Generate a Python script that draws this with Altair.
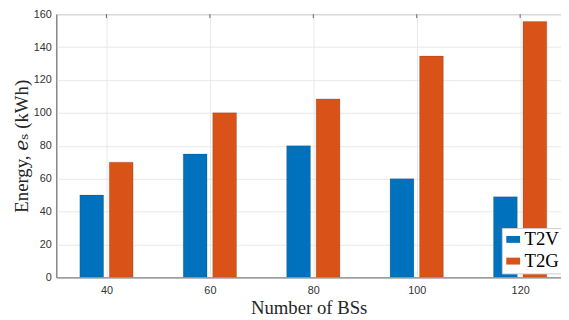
import altair as alt
import pandas as pd

categories = [40, 60, 80, 100, 120]
series_names = ["T2V", "T2G"]
t2v = [50, 75, 80, 60, 49]
t2g = [70, 100, 108.5, 134.5, 155.5]
y_ticks = [0, 20, 40, 60, 80, 100, 120, 140, 160]

rows = []
for c, v in zip(categories, t2v):
    rows.append({"n": c, "series": "T2V", "energy": v})
for c, v in zip(categories, t2g):
    rows.append({"n": c, "series": "T2G", "energy": v})
df = pd.DataFrame(rows)

colors = ["#0072BD", "#D95319"]
serif = "Liberation Serif, DejaVu Serif"
sans = "Liberation Sans"

x_scale = alt.Scale(domain=[30.3, 127.9], nice=False, zero=False)
y_scale = alt.Scale(domain=[0, 160], nice=False)

bars = alt.Chart(df).transform_calculate(
    off="datum.series == 'T2V' ? -2.85 : 2.85"
).transform_calculate(
    x0="datum.n + datum.off - 2.3",
    x1="datum.n + datum.off + 2.3",
).mark_bar(clip=True, stroke="#222", strokeWidth=0.5, strokeOpacity=0.35).encode(
    x=alt.X("x0:Q", scale=x_scale,
            axis=alt.Axis(values=categories, title="Number of BSs", ticks=False,
                          labelPadding=7, titlePadding=4, grid=True)),
    x2="x1:Q",
    y=alt.Y("energy:Q", scale=y_scale,
            axis=alt.Axis(values=y_ticks, title="Energy, 𝑒ₛ (kWh)", ticks=False,
                          labelPadding=5, titlePadding=2, grid=True)),
    y2=alt.datum(0),
    color=alt.Color("series:N", scale=alt.Scale(domain=series_names, range=colors),
                    legend=alt.Legend(title=None, orient="none", legendX=452, legendY=217,
                                      symbolType="M-1,-0.5H1V0.5H-1Z", symbolSize=196,
                                      symbolStrokeWidth=0, labelFont=serif, labelFontSize=19,
                                      labelColor="#000", labelOffset=2, rowPadding=2,
                                      padding=2, strokeColor="#cccccc", fillColor="#ffffff")),
)

top_ticks = alt.Chart(pd.DataFrame({"n": categories})).mark_rule(
    color="#666", strokeWidth=1
).encode(
    x=alt.X("n:Q", scale=x_scale),
    y=alt.value(0),
    y2=alt.value(4),
)

chart = alt.layer(bars, top_ticks).properties(
    width=512, height=267,
    autosize=alt.AutoSizeParams(type="none"),
    padding={"left": 49, "top": 4, "right": 0, "bottom": 41},
    background="#ffffff",
).configure_view(
    stroke="#808080", strokeWidth=1
).configure_axis(
    labelFont=sans, labelFontSize=11, labelColor="#333333",
    titleFont=serif, titleFontSize=19, titleFontWeight="normal", titleColor="#262626",
    gridColor="#e8e8e8", gridWidth=1, domainColor="#808080", domainWidth=1,
)

chart.save("out.html", embed_options={"renderer": "svg", "actions": False})
